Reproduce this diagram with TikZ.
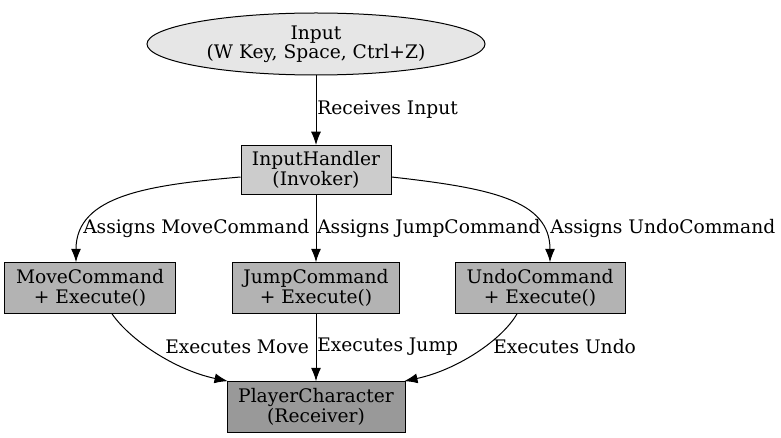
\documentclass[tikz,border=0pt]{standalone}
\usepackage{fontspec}
\setmainfont{DejaVu Serif}
\usetikzlibrary{shapes.geometric,arrows.meta}
\definecolor{inputfill}{HTML}{E6E6E6}
\definecolor{invokerfill}{HTML}{CCCCCC}
\definecolor{commandfill}{HTML}{B3B3B3}
\definecolor{receiverfill}{HTML}{999999}

\begin{document}
\begin{tikzpicture}[x=0.75pt,y=-0.75pt,>={Latex[length=10pt,width=7.5pt]},
  every node/.style={font=\fontsize{14}{14.5}\selectfont},
  box/.style={draw,line width=0.75pt,align=center,inner sep=0pt,minimum height=38pt},
  lbl/.style={anchor=west,inner sep=0pt},
  edge/.style={->,line width=0.75pt}]
  \useasboundingbox (0,0) rectangle (781,438);
  % ---------- nodes ----------------------------------------------
  \node[draw,ellipse,fill=inputfill,line width=0.75pt,align=center,inner sep=0pt,
        minimum width=253.5pt,minimum height=46.5pt] (inp) at (316,44)
        {Input\\(W Key, Space, Ctrl+Z)};
  \node[box,fill=invokerfill,minimum width=112.5pt,minimum height=36.75pt] (handler) at (316,170)
        {InputHandler\\(Invoker)};
  \node[box,fill=commandfill,minimum width=128.25pt] (movecmd) at (90,288)
        {MoveCommand\\+ Execute()};
  \node[box,fill=commandfill,minimum width=125.25pt] (jumpcmd) at (316,288)
        {JumpCommand\\+ Execute()};
  \node[box,fill=commandfill,minimum width=127.5pt] (undocmd) at (540,288)
        {UndoCommand\\+ Execute()};
  \node[box,fill=receiverfill,minimum width=133.5pt] (player) at (316,407)
        {PlayerCharacter\\(Receiver)};
  % ---------- connectors -----------------------------------------
  \draw[edge] (inp) -- (handler);
  \draw[edge] ([yshift=-5.25pt]handler.west) .. controls (150,185) and (76,195)
        .. ([xshift=-10.5pt]movecmd.north);
  \draw[edge] (handler) -- (jumpcmd);
  \draw[edge] ([yshift=-5.25pt]handler.east) .. controls (490,188) and (550,200)
        .. ([xshift=7.5pt]undocmd.north);
  \draw[edge] ([xshift=16.5pt]movecmd.south) .. controls (130,340) and (175,370)
        .. ([xshift=1pt]player.north west);
  \draw[edge] (jumpcmd) -- (player);
  \draw[edge] ([xshift=-17.25pt]undocmd.south) .. controls (502,340) and (457,370)
        .. ([xshift=-1pt]player.north east);
  % ---------- edge labels ----------------------------------------
  \node[lbl] (lreceive) at (317,110) {Receives Input};
  \node[lbl] (lmove) at (83,228) {Assigns MoveCommand};
  \node[lbl] (ljump) at (317,228) {Assigns JumpCommand};
  \node[lbl] (lundo) at (550,228) {Assigns UndoCommand};
  \node[lbl] (xmove) at (165,347) {Executes Move};
  \node[lbl] (xjump) at (317,347) {Executes Jump};
  \node[lbl] (xundo) at (493,347) {Executes Undo};
\end{tikzpicture}
\end{document}
